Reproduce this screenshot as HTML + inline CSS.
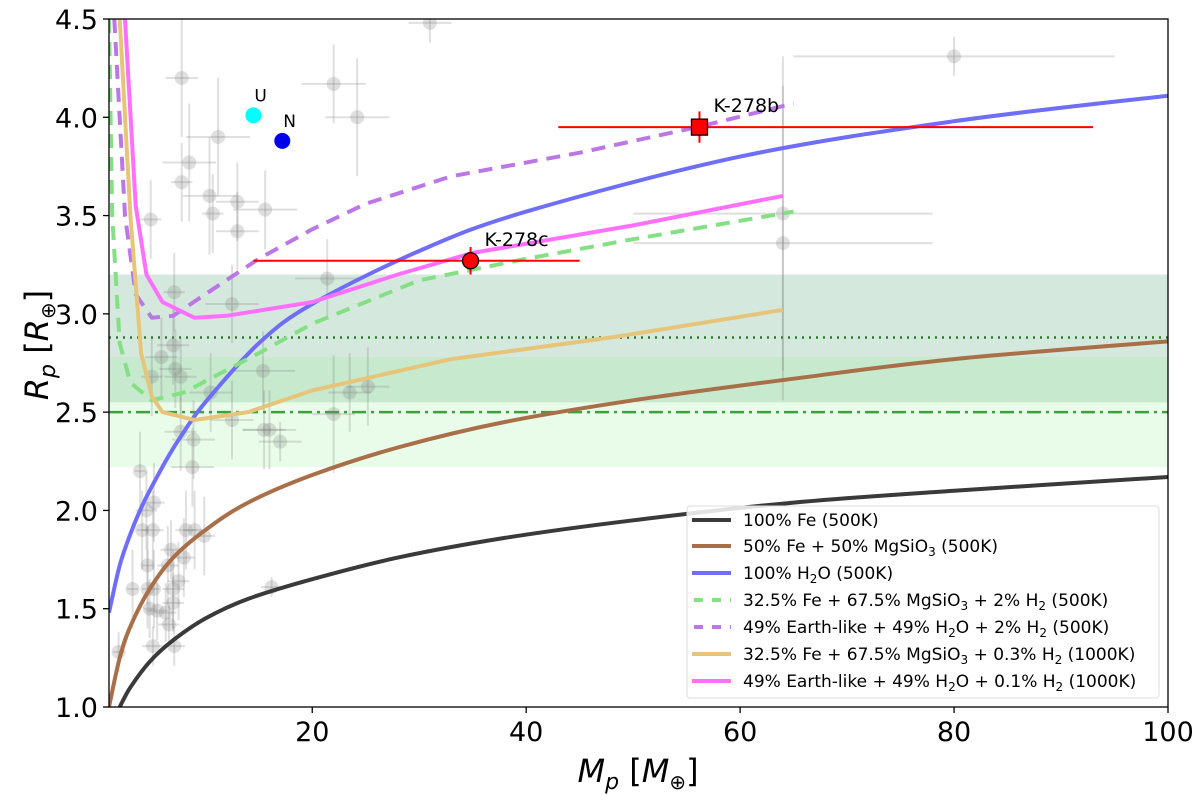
<!DOCTYPE html>
<html><head><meta charset="utf-8"><style>
html,body{margin:0;padding:0;background:#fff;}
svg{display:block;font-family:"DejaVu Sans","Liberation Sans",sans-serif;}
</style></head><body>
<svg id="chart" width="1200" height="800" viewBox="0 0 1200 800" xmlns="http://www.w3.org/2000/svg"></svg>
<script>
// ---- data ----
const xTicks=[20,40,60,80,100];
const yTicks=[1.0,1.5,2.0,2.5,3.0,3.5,4.0,4.5];
const feM=[2,3,4.8,7,10,14,20,28,38,50,65,80,100];
const feR=[1.0,1.1,1.23,1.34,1.45,1.55,1.65,1.76,1.86,1.95,2.04,2.1,2.17];
const brM=[1,2,3,4.8,7,10,14,20,28,38,50,65,80,100];
const brR=[1.0,1.25,1.41,1.6,1.76,1.9,2.04,2.18,2.32,2.45,2.56,2.67,2.77,2.86];
const h2oM=[1,2,3,3.9,4.8,6.5,8,10,15,20,30,40,60,80,100];
const h2oR=[1.48,1.72,1.88,2.0,2.1,2.27,2.4,2.55,2.85,3.05,3.32,3.52,3.8,3.98,4.11];
const gdM=[1.0,1.3,2,3,5,8,15,20,30,40,50,65];
const gdR=[4.5,3.5,2.85,2.65,2.56,2.6,2.8,2.95,3.17,3.28,3.38,3.52];
const pdM=[1.5,2.5,3.5,5,7,10,15,20,25,33,45,56,65];
const pdR=[4.5,3.5,3.1,2.98,2.99,3.1,3.28,3.43,3.56,3.7,3.82,3.95,4.07];
const yeM=[2,3,4,5,6,9,14,20,33,48,64];
const yeR=[4.5,3.5,2.8,2.58,2.5,2.46,2.5,2.61,2.77,2.88,3.02];
const mgM=[2.5,3.5,4.5,6,9,12,20,28,35,50,64];
const mgR=[4.5,3.55,3.2,3.06,2.98,2.99,3.06,3.2,3.31,3.45,3.6];
const gM=[7.8,8.5,7.8,11.2,10.4,10.7,13,13,15.6,4.9,22,24.2,7.1,12.5,5.9,7,5,7.2,7.7,10.5,15.4,21.4,22,23.5,25.2,12.5,15.5,16,17,7.7,8.9,8.8,3.9,5.2,4.5,4.1,5.1,8.2,9,9.9,6.8,4.6,6.5,8,7.5,3.2,4.6,5.2,7,4.8,5.5,6.3,7,6.6,5.1,7.1,1.9,16.2,31,80,64,64];
const gR=[4.2,3.77,3.67,3.9,3.6,3.51,3.57,3.42,3.53,3.48,4.17,4.0,3.11,3.05,2.78,2.84,2.68,2.72,2.68,2.6,2.71,3.18,2.49,2.6,2.63,2.46,2.41,2.41,2.35,2.4,2.36,2.22,2.2,2.04,2.0,1.9,1.9,1.9,1.9,1.87,1.8,1.72,1.72,1.76,1.64,1.6,1.6,1.6,1.6,1.5,1.49,1.48,1.53,1.42,1.31,1.31,1.28,1.61,4.48,4.31,3.51,3.36];
const gdx=[1.5,2.5,1,3,2.5,1,2,2,3,1,3,3,1,2.5,1.5,1.5,1,1.5,1.5,2,3,3,2,2,2,2,2,2.5,2,1.5,2,2,0.5,1,1,0.5,1,1,1,1,1,0.5,1,1,1,0.5,0.5,0.5,1,0.5,1,1,1,1,1,1,0.5,1,2,15,14,14];
const gdy=[0.3,0.3,0.2,0.3,0.3,0.2,0.2,0.2,0.2,0.2,0.2,0.3,0.2,0.2,0.2,0.2,0.2,0.2,0.2,0.2,0.2,0.2,0.3,0.2,0.2,0.2,0.2,0.2,0.1,0.2,0.2,0.2,0.2,0.2,0.2,0.2,0.2,0.2,0.2,0.2,0.15,0.2,0.2,0.2,0.2,0.2,0.2,0.2,0.2,0.15,0.15,0.15,0.15,0.1,0.1,0.1,0.1,0.05,0.1,0.1,0.8,0.8];
const kM=[34.8,56.2], kR=[3.27,3.95], kLo=[14.5,43], kHi=[45,93], kDr=[0.07,0.08], kLab=['K-278c','K-278b'];
const ssM=[14.5,17.2], ssR=[4.01,3.88], ssLab=['U','N'], ssCol=['#00ffff','#0000ee'];
// ---- axes ----
const L=109,R=1168,T=19,B=707;
const X=m=>L+(m-1)*(R-L)/99;
const Y=r=>T+(4.5-r)*(B-T)/3.5;
const svg=document.getElementById('chart');
const NS='http://www.w3.org/2000/svg';
function mk(tag,attrs,parent){const e=document.createElementNS(NS,tag);for(const k in attrs)e.setAttribute(k,attrs[k]);(parent||svg).appendChild(e);return e;}
const defs=mk('defs',{});const cp=mk('clipPath',{id:'clip'},defs);mk('rect',{x:L,y:T,width:R-L,height:B-T},cp);
const plot=mk('g',{'clip-path':'url(#clip)'});

// bands
let b1=mk('rect',{x:L,y:Y(3.2),width:R-L,height:Y(2.55)-Y(3.2),fill:'rgba(46,139,87,0.2)'},plot);

let b2=mk('rect',{x:L,y:Y(2.78),width:R-L,height:Y(2.22)-Y(2.78),fill:'rgba(144,238,144,0.2)'},plot);

let l1=mk('line',{x1:L,x2:R,y1:Y(2.88),y2:Y(2.88),stroke:'#2a7a2a',"stroke-width":2.5,"stroke-dasharray":'2,5'},plot);

let l2=mk('line',{x1:L,x2:R,y1:Y(2.5),y2:Y(2.5),stroke:'#3ca03c',"stroke-width":2.5,"stroke-dasharray":'14,5,3,5'},plot);

// gray exoplanets
for(let i=0;i<gM.length;i++){
 const g=mk('g',{},plot);
 
 const x=X(gM[i]),y=Y(gR[i]);
 mk('line',{x1:X(gM[i]-gdx[i]),x2:X(gM[i]+gdx[i]),y1:y,y2:y,stroke:'rgba(128,128,128,0.25)','stroke-width':2},g);
 mk('line',{x1:x,x2:x,y1:Y(gR[i]-gdy[i]),y2:Y(gR[i]+gdy[i]),stroke:'rgba(128,128,128,0.25)','stroke-width':2},g);
 mk('circle',{cx:x,cy:y,r:7,fill:'rgba(128,128,128,0.25)'},g);
}
// curves
function pathD(ms,rs,smooth){
 const P=ms.map((m,i)=>[X(m),Y(rs[i])]);
 if(!smooth) return P.map((p,i)=>(i?'L':'M')+p[0].toFixed(1)+','+p[1].toFixed(1)).join('');
 let d='M'+P[0][0].toFixed(1)+','+P[0][1].toFixed(1);
 for(let i=0;i<P.length-1;i++){
  const p0=P[Math.max(0,i-1)],p1=P[i],p2=P[i+1],p3=P[Math.min(P.length-1,i+2)];
  const c1=[p1[0]+(p2[0]-p0[0])/6,p1[1]+(p2[1]-p0[1])/6];
  const c2=[p2[0]-(p3[0]-p1[0])/6,p2[1]-(p3[1]-p1[1])/6];
  d+='C'+c1.map(v=>v.toFixed(1)).join(',')+' '+c2.map(v=>v.toFixed(1)).join(',')+' '+p2.map(v=>v.toFixed(1)).join(',');
 }
 return d;
}
function curve(ms,rs,color,w,dash,name,smooth){
 const p=mk('path',{d:pathD(ms,rs,smooth),fill:'none',stroke:color,'stroke-width':w,'stroke-linejoin':'round','stroke-dasharray':dash||'none'},plot);
 
}
curve(feM,feR,'#3a3a3a',4,null,'curve-fe',true);
curve(brM,brR,'#a86f48',4,null,'curve-fe-mgsio3',true);
curve(h2oM,h2oR,'#6e6ef8',4,null,'curve-h2o',true);
curve(gdM,gdR,'#85e085',4,'14,9','curve-rocky-2pct-h2',false);
curve(pdM,pdR,'#bb77e6',4,'14,9','curve-water-2pct-h2',false);
curve(yeM,yeR,'#e6c57a',4,null,'curve-rocky-0.3pct-h2',false);
curve(mgM,mgR,'#ff70ff',4,null,'curve-water-0.1pct-h2',false);
// solar system
for(let i=0;i<2;i++){
 const c=mk('circle',{cx:X(ssM[i]),cy:Y(ssR[i]),r:8,fill:ssCol[i]},plot);
 
 const t=mk('text',{x:X(ssM[i])+1,y:Y(ssR[i])-14,'font-size':17,fill:'#000'},plot);t.textContent=ssLab[i];
 
}
// K-278
for(let i=0;i<2;i++){
 const g=mk('g',{},plot);
 
 const x=X(kM[i]),y=Y(kR[i]);
 mk('line',{x1:X(kLo[i]),x2:X(kHi[i]),y1:y,y2:y,stroke:'#ff0000','stroke-width':2},g);
 mk('line',{x1:x,x2:x,y1:Y(kR[i]-kDr[i]),y2:Y(kR[i]+kDr[i]),stroke:'#ff0000','stroke-width':2},g);
 if(i==0) mk('circle',{cx:x,cy:y,r:8,fill:'#ff0000',stroke:'#000','stroke-width':1.3},g);
 else mk('rect',{x:x-8,y:y-8,width:16,height:16,fill:'#ff0000',stroke:'#000','stroke-width':1.3},g);
 const t=mk('text',{x:x+14,y:y-15,'font-size':19,fill:'#000'},g);t.textContent=kLab[i];
}
// frame
let fr=mk('rect',{x:L,y:T,width:R-L,height:B-T,fill:'none',stroke:'#000','stroke-width':1.3});

xTicks.forEach(v=>{mk('line',{x1:X(v),x2:X(v),y1:B,y2:B+6,stroke:'#000','stroke-width':1.3});
 const t=mk('text',{x:X(v),y:B+34,'font-size':27,'text-anchor':'middle'});t.textContent=v;
 });
yTicks.forEach(v=>{mk('line',{x1:L-6,x2:L,y1:Y(v),y2:Y(v),stroke:'#000','stroke-width':1.3});
 const t=mk('text',{x:L-11,y:Y(v)+10,'font-size':27,'text-anchor':'end'});t.textContent=v.toFixed(1);
 });
</script>
<svg style="position:absolute;left:0;top:0" width="1200" height="800">
<text x="638" y="782" font-size="32" text-anchor="middle" font-family="DejaVu Sans,sans-serif"><tspan font-style="italic">M</tspan><tspan font-style="italic" font-size="22" dy="7">p</tspan><tspan dy="-7"> [</tspan><tspan font-style="italic">M</tspan><tspan font-size="20" dy="7">⊕</tspan><tspan dy="-7">]</tspan></text>
<text transform="translate(48,345) rotate(-90)" font-size="32" text-anchor="middle" font-family="DejaVu Sans,sans-serif"><tspan font-style="italic">R</tspan><tspan font-style="italic" font-size="22" dy="7">p</tspan><tspan dy="-7"> [</tspan><tspan font-style="italic">R</tspan><tspan font-size="20" dy="7">⊕</tspan><tspan dy="-7">]</tspan></text>
<g font-family="DejaVu Sans,sans-serif" font-size="17">
<rect x="687" y="506" width="472" height="192" rx="3" fill="rgba(255,255,255,0.85)" stroke="#ddd"/>
<line x1="692" x2="731" y1="520" y2="520" stroke="#3a3a3a" stroke-width="4"/><text x="743" y="526">100% Fe (500K)</text>
<line x1="692" x2="731" y1="546" y2="546" stroke="#a86f48" stroke-width="4"/><text x="743" y="552">50% Fe + 50% MgSiO<tspan font-size="12" dy="4">3</tspan><tspan dy="-4"> (500K)</tspan></text>
<line x1="692" x2="731" y1="573" y2="573" stroke="#6e6ef8" stroke-width="4"/><text x="743" y="579">100% H<tspan font-size="12" dy="4">2</tspan><tspan dy="-4">O (500K)</tspan></text>
<line x1="694" x2="731" y1="600" y2="600" stroke="#85e085" stroke-width="4" stroke-dasharray="9,9"/><text x="743" y="606">32.5% Fe + 67.5% MgSiO<tspan font-size="12" dy="4">3</tspan><tspan dy="-4"> + 2% H</tspan><tspan font-size="12" dy="4">2</tspan><tspan dy="-4"> (500K)</tspan></text>
<line x1="694" x2="731" y1="627" y2="627" stroke="#bb77e6" stroke-width="4" stroke-dasharray="9,9"/><text x="743" y="633">49% Earth-like + 49% H<tspan font-size="12" dy="4">2</tspan><tspan dy="-4">O + 2% H</tspan><tspan font-size="12" dy="4">2</tspan><tspan dy="-4"> (500K)</tspan></text>
<line x1="692" x2="731" y1="654" y2="654" stroke="#e6c57a" stroke-width="4"/><text x="743" y="660">32.5% Fe + 67.5% MgSiO<tspan font-size="12" dy="4">3</tspan><tspan dy="-4"> + 0.3% H</tspan><tspan font-size="12" dy="4">2</tspan><tspan dy="-4">  (1000K)</tspan></text>
<line x1="692" x2="731" y1="681" y2="681" stroke="#ff70ff" stroke-width="4"/><text x="743" y="687">49% Earth-like + 49% H<tspan font-size="12" dy="4">2</tspan><tspan dy="-4">O + 0.1% H</tspan><tspan font-size="12" dy="4">2</tspan><tspan dy="-4"> (1000K)</tspan></text>
</g>
</svg>
</body></html>
